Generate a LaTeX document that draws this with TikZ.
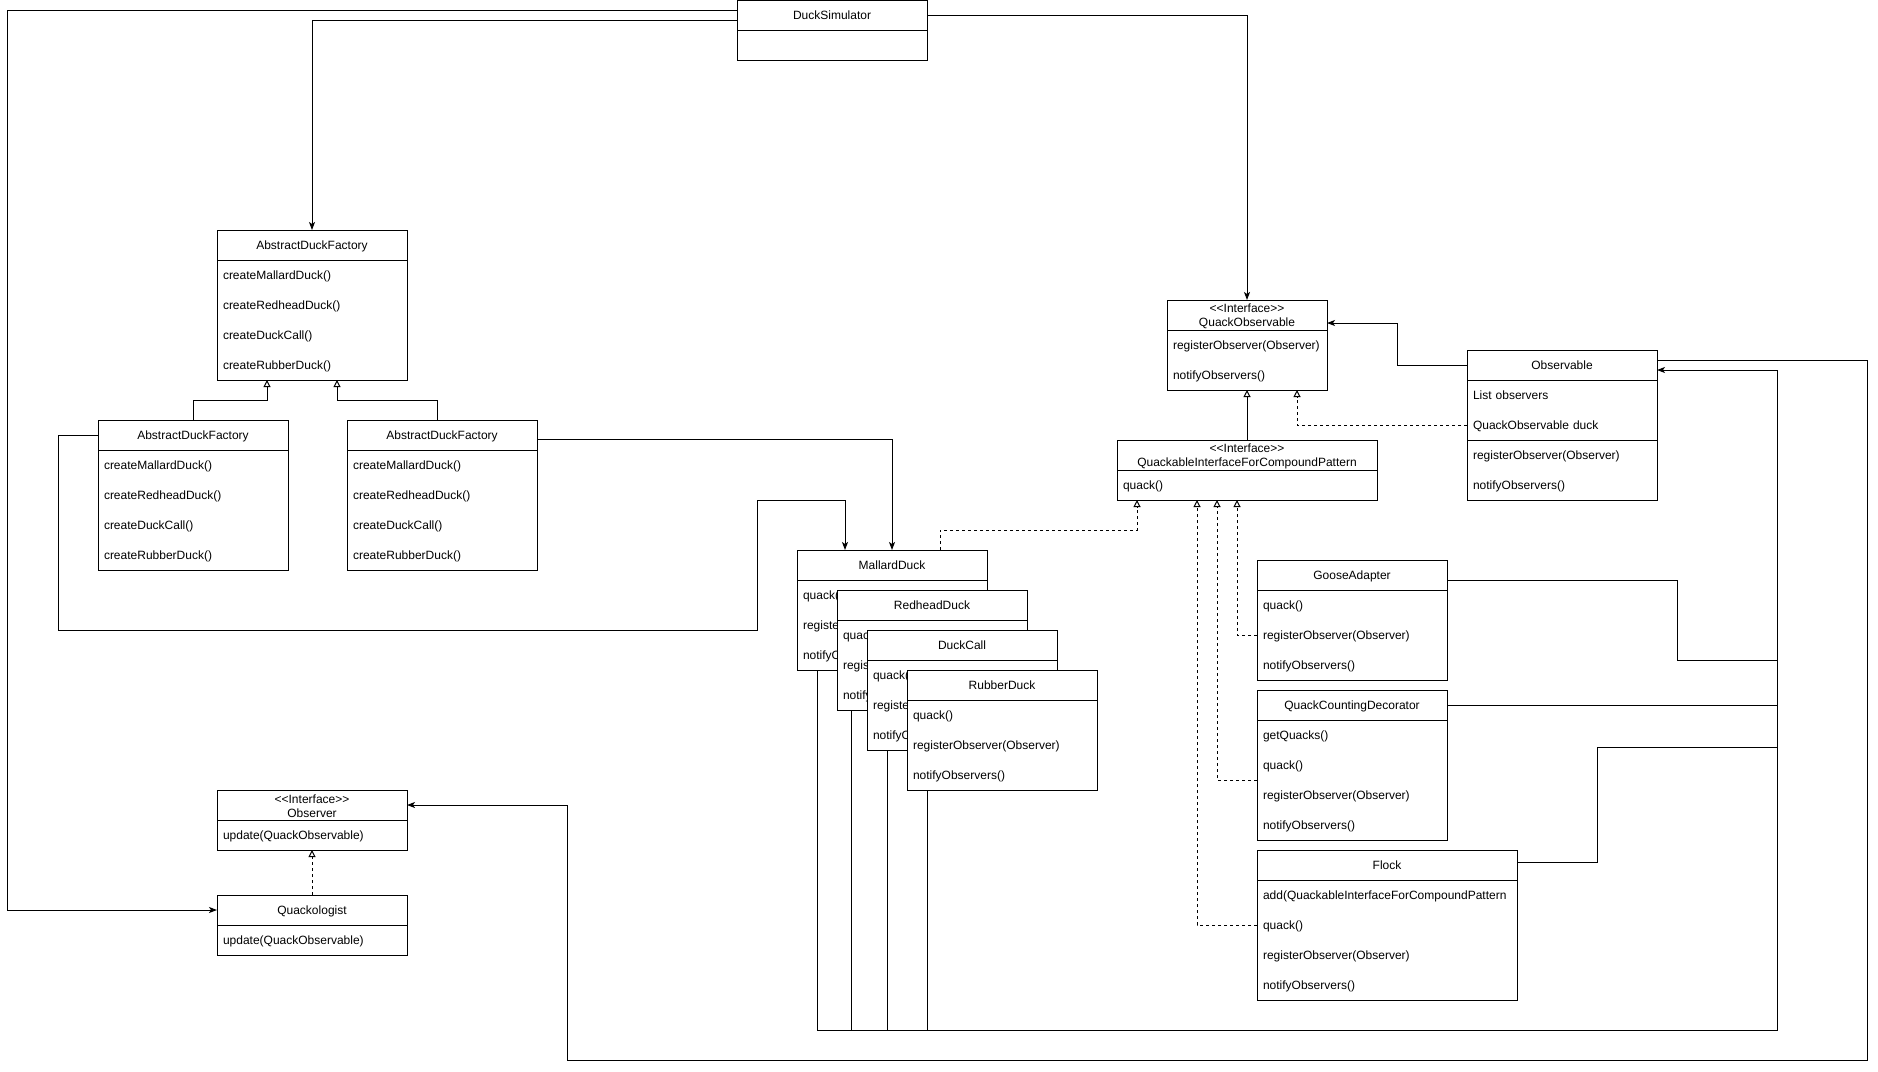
\documentclass[tikz,border=0pt]{standalone}
\usepackage{fontspec}
\newfontfamily\umlfont{Liberation Sans}
\usetikzlibrary{arrows.meta}
\newcommand\umlsize{\umlfont\fontsize{12pt}{14pt}\selectfont}
\newcommand\ifacetag{\rule{0pt}{11.2pt}<\kern0pt<Interface>\kern0pt>}

\begin{document}
\begin{tikzpicture}[
        x=1pt, y=-1pt, line width=1pt, font=\umlsize,
        classname/.style={draw, fill=white, anchor=north west, outer sep=0pt, inner sep=0pt, minimum width=#1, minimum height=30pt, align=center},
        classname/.default=190pt,
        oneline/.style={text height=9.6pt, text depth=1pt},
        classbody/.style 2 args={draw, fill=white, anchor=north west, outer sep=0pt, inner sep=0pt, minimum width=#1, minimum height=#2},
        member/.style={anchor=north west, outer sep=0pt, inner xsep=6pt, inner ysep=0pt, minimum height=30pt, text width=#1, align=left, oneline},
        member/.default=178pt,
        assoc/.style={-{Stealth[length=8pt, width=6pt, inset=2pt]}},
        inherit/.style={-{Triangle[open, length=7pt, width=7pt]}},
        realize/.style={inherit, dash pattern=on 3pt off 3pt}
    ]
        \useasboundingbox (0,0) rectangle (1878,1071);

        % DuckSimulator
        \node[classname, oneline] (sim_head) at (737,0.5) {DuckSimulator};
        \node[classbody={190pt}{30pt}] (sim_body) at (737,30.5) {};

        % AbstractDuckFactory and its two subclasses
        \node[classname, oneline] (factory_head) at (217,230) {AbstractDuckFactory};
        \node[classbody={190pt}{120pt}] (factory_body) at (217,260) {};
        \node[member] (factory_m1) at (217,260) {createMallardDuck()};
        \node[member] (factory_m2) at (217,290) {createRedheadDuck()};
        \node[member] (factory_m3) at (217,320) {createDuckCall()};
        \node[member] (factory_m4) at (217,350) {createRubberDuck()};

        \node[classname, oneline] (lfac_head) at (98,420) {AbstractDuckFactory};
        \node[classbody={190pt}{120pt}] (lfac_body) at (98,450) {};
        \node[member] (lfac_m1) at (98,450) {createMallardDuck()};
        \node[member] (lfac_m2) at (98,480) {createRedheadDuck()};
        \node[member] (lfac_m3) at (98,510) {createDuckCall()};
        \node[member] (lfac_m4) at (98,540) {createRubberDuck()};

        \node[classname, oneline] (rfac_head) at (347,420) {AbstractDuckFactory};
        \node[classbody={190pt}{120pt}] (rfac_body) at (347,450) {};
        \node[member] (rfac_m1) at (347,450) {createMallardDuck()};
        \node[member] (rfac_m2) at (347,480) {createRedheadDuck()};
        \node[member] (rfac_m3) at (347,510) {createDuckCall()};
        \node[member] (rfac_m4) at (347,540) {createRubberDuck()};

        % Observer side
        \node[classname] (observer_head) at (217,790) {\ifacetag\\Observer};
        \node[classbody={190pt}{30pt}] (observer_body) at (217,820) {};
        \node[member] (observer_m1) at (217,820) {update(QuackObservable)};

        \node[classname, oneline] (qlog_head) at (217,895) {Quackologist};
        \node[classbody={190pt}{30pt}] (qlog_body) at (217,925) {};
        \node[member] (qlog_m1) at (217,925) {update(QuackObservable)};

        % QuackObservable and Observable
        \node[classname=160pt] (qobs_head) at (1167,300) {\ifacetag\\QuackObservable};
        \node[classbody={160pt}{60pt}] (qobs_body) at (1167,330) {};
        \node[member=148pt] (qobs_m1) at (1167,330) {registerObserver(Observer)};
        \node[member=148pt] (qobs_m2) at (1167,360) {notifyObservers()};

        \node[classname, oneline] (obs_head) at (1467,350) {Observable};
        \node[classbody={190pt}{60pt}] (obs_attr) at (1467,380) {};
        \node[classbody={190pt}{60pt}] (obs_body) at (1467,440) {};
        \node[member] (obs_m1) at (1467,380) {List observers};
        \node[member] (obs_m2) at (1467,410) {QuackObservable duck};
        \node[member] (obs_m3) at (1467,440) {registerObserver(Observer)};
        \node[member] (obs_m4) at (1467,470) {notifyObservers()};

        % Quackable interface
        \node[classname=260pt] (quackable_head) at (1117,440) {\ifacetag\\QuackableInterfaceForCompoundPattern};
        \node[classbody={260pt}{30pt}] (quackable_body) at (1117,470) {};
        \node[member=248pt] (quackable_m1) at (1117,470) {quack()};

        % Ducks, stacked
        \node[classname, oneline] (mallard_head) at (797,550) {MallardDuck};
        \node[classbody={190pt}{90pt}] (mallard_body) at (797,580) {};
        \node[member] (mallard_m1) at (797,580) {quack()};
        \node[member] (mallard_m2) at (797,610) {registerObserver(Observer)};
        \node[member] (mallard_m3) at (797,640) {notifyObservers()};

        \node[classname, oneline] (redhead_head) at (837,590) {RedheadDuck};
        \node[classbody={190pt}{90pt}] (redhead_body) at (837,620) {};
        \node[member] (redhead_m1) at (837,620) {quack()};
        \node[member] (redhead_m2) at (837,650) {registerObserver(Observer)};
        \node[member] (redhead_m3) at (837,680) {notifyObservers()};

        \node[classname, oneline] (duckcall_head) at (867,630) {DuckCall};
        \node[classbody={190pt}{90pt}] (duckcall_body) at (867,660) {};
        \node[member] (duckcall_m1) at (867,660) {quack()};
        \node[member] (duckcall_m2) at (867,690) {registerObserver(Observer)};
        \node[member] (duckcall_m3) at (867,720) {notifyObservers()};

        \node[classname, oneline] (rubber_head) at (907,670) {RubberDuck};
        \node[classbody={190pt}{90pt}] (rubber_body) at (907,700) {};
        \node[member] (rubber_m1) at (907,700) {quack()};
        \node[member] (rubber_m2) at (907,730) {registerObserver(Observer)};
        \node[member] (rubber_m3) at (907,760) {notifyObservers()};

        % GooseAdapter, QuackCountingDecorator, Flock
        \node[classname, oneline] (goose_head) at (1257,560) {GooseAdapter};
        \node[classbody={190pt}{90pt}] (goose_body) at (1257,590) {};
        \node[member] (goose_m1) at (1257,590) {quack()};
        \node[member] (goose_m2) at (1257,620) {registerObserver(Observer)};
        \node[member] (goose_m3) at (1257,650) {notifyObservers()};

        \node[classname, oneline] (qcd_head) at (1257,690) {QuackCountingDecorator};
        \node[classbody={190pt}{120pt}] (qcd_body) at (1257,720) {};
        \node[member] (qcd_m1) at (1257,720) {getQuacks()};
        \node[member] (qcd_m2) at (1257,750) {quack()};
        \node[member] (qcd_m3) at (1257,780) {registerObserver(Observer)};
        \node[member] (qcd_m4) at (1257,810) {notifyObservers()};

        \node[classname=260pt, oneline] (flock_head) at (1257,850) {Flock};
        \node[classbody={260pt}{120pt}] (flock_body) at (1257,880) {};
        \node[member=248pt] (flock_m1) at (1257,880) {add(QuackableInterfaceForCompoundPattern};
        \node[member=248pt] (flock_m2) at (1257,910) {quack()};
        \node[member=248pt] (flock_m3) at (1257,940) {registerObserver(Observer)};
        \node[member=248pt] (flock_m4) at (1257,970) {notifyObservers()};

        \coordinate (bus_corner) at (1777,1030);
        \coordinate (loop_corner) at (1867,1060);

        % DuckSimulator links
        \draw[assoc] ([yshift=5pt]sim_head.west) -| ([xshift=-210pt]qlog_head.west) -- (qlog_head.west);
        \draw[assoc] ([yshift=-5pt]sim_head.west) -| (factory_head.north);
        \draw[assoc] (sim_head.east) -| (qobs_head.north);

        % factories
        \draw[inherit] (lfac_head.north) -- ++(0,-20) -| ([xshift=-45pt]factory_body.south);
        \draw[inherit] ([xshift=-5pt]rfac_head.north) -- ++(0,-20) -| ([xshift=25pt]factory_body.south);
        \draw[assoc] (lfac_head.west) -| ++(-40,195) -| ++(699,-130) -| ([xshift=-47pt]mallard_head.north);
        \draw[assoc] ([yshift=-4pt]rfac_head.east) -| (mallard_head.north);

        % observer pattern
        \draw[inherit] (quackable_head.north) -- (qobs_body.south);
        \draw[assoc] (obs_head.west) -- ++(-70,0) |- ([yshift=-8pt]qobs_head.east);
        \draw[realize] (obs_m2.west) -| ([xshift=50pt]qobs_body.south);
        \draw[realize] (qlog_head.north) -- (observer_body.south);
        \draw[assoc] ([yshift=5pt]obs_head.east) -| (loop_corner) -| ([xshift=160pt]observer_head.east) -- (observer_head.east);

        % quackables
        \draw[realize] ([xshift=48pt]mallard_head.north) -- ++(0,-20) -| ([xshift=-110pt]quackable_body.south);
        \draw[realize] (goose_m2.west) -| ([xshift=-10pt]quackable_body.south);
        \draw[realize] (qcd_m3.north west) -| ([xshift=-30pt]quackable_body.south);
        \draw[realize] (flock_m2.west) -| ([xshift=-50pt]quackable_body.south);

        % everything back to Observable
        \draw[assoc] ([xshift=20pt]mallard_body.south west) |- (bus_corner) |- ([yshift=-5pt]obs_head.east);
        \draw ([xshift=14pt]redhead_body.south west) |- (bus_corner);
        \draw ([xshift=20pt]duckcall_body.south west) |- (bus_corner);
        \draw ([xshift=20pt]rubber_body.south west) |- (bus_corner);
        \draw ([yshift=-5pt]goose_head.east) -| ++(230,80) -| (bus_corner);
        \draw (qcd_head.east) -| (bus_corner);
        \draw ([yshift=3pt]flock_head.east) -| ++(80,-115) -| (bus_corner);
    \end{tikzpicture}
\end{document}
